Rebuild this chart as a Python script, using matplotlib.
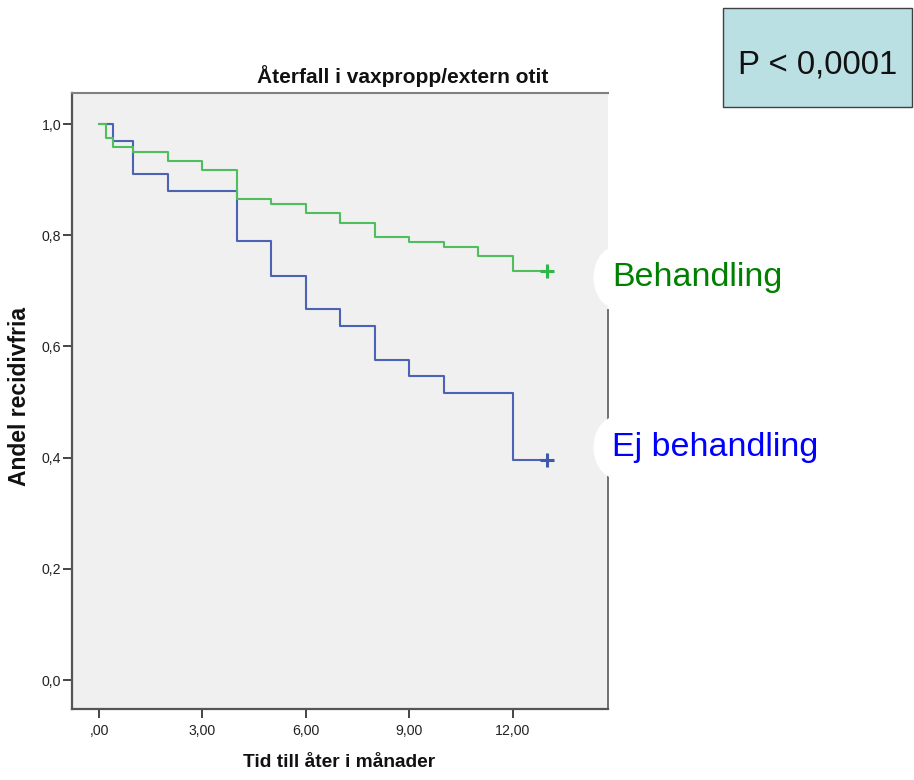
import matplotlib
matplotlib.use("Agg")
import matplotlib.pyplot as plt
from matplotlib.patches import Rectangle

# ---- data ----
title = "Återfall i vaxpropp/extern otit"
xlabel = "Tid till åter i månader"
ylabel = "Andel recidivfria"
p_text = "P < 0,0001"

t_beh = [0, 0.2, 0.4, 1, 2, 3, 4, 5, 6, 7, 8, 9, 10, 11, 12, 13]
s_beh = [1.0, 0.975, 0.959, 0.950, 0.933, 0.917, 0.866, 0.857, 0.840, 0.822,
         0.797, 0.788, 0.779, 0.763, 0.736, 0.736]
t_ej = [0, 0.4, 1, 2, 4, 5, 6, 7, 8, 9, 10, 12, 13]
s_ej = [1.0, 0.970, 0.910, 0.879, 0.789, 0.727, 0.667, 0.637, 0.576, 0.547,
        0.516, 0.395, 0.395]
label_beh = "Behandling"
label_ej = "Ej behandling"

x_ticks = [0, 3, 6, 9, 12]
x_ticklabels = [",00", "3,00", "6,00", "9,00", "12,00"]
y_ticks = [0.0, 0.2, 0.4, 0.6, 0.8, 1.0]
y_ticklabels = ["0,0", "0,2", "0,4", "0,6", "0,8", "1,0"]

FONT = ["Liberation Sans", "DejaVu Sans"]

FW, FH = 914, 780
fig = plt.figure(figsize=(FW / 100, FH / 100), dpi=100)
fig.patch.set_facecolor("white")

L, R, T, B = 71.5, 608, 93, 709
ax = fig.add_axes([L / FW, 1 - B / FH, (R - L) / FW, (B - T) / FH])
ax.set_facecolor("#F0F0F0")

col_beh_line = "#4FBE5C"
col_beh_mark = "#2EB848"
col_ej_line = "#4B63B2"
col_ej_mark = "#3E58AC"

ax.step(t_ej, s_ej, where="post", color=col_ej_line, lw=1.5, zorder=3)
ax.step(t_beh, s_beh, where="post", color=col_beh_line, lw=1.5, zorder=4)
ax.plot([t_ej[-1]], [s_ej[-1]], marker="+", ms=10, mew=2.2,
        color=col_ej_mark, zorder=5, clip_on=False)
ax.plot([t_beh[-1]], [s_beh[-1]], marker="+", ms=10, mew=2.2,
        color=col_beh_mark, zorder=5, clip_on=False)

ax.set_xlim(-0.798, 14.77)
ax.set_ylim(-0.052, 1.0558)

ax.set_xticks(x_ticks)
ax.set_xticklabels(x_ticklabels, family=FONT, fontsize=10.2, color="#222222")
ax.set_yticks(y_ticks)
ax.set_yticklabels(y_ticklabels, family=FONT, fontsize=10.2, color="#222222")
ax.tick_params(axis="both", direction="out", length=6.5, width=1.4,
               color="#444444")
ax.tick_params(axis="x", pad=4)
ax.tick_params(axis="y", pad=1)

for side in ["left", "bottom"]:
    ax.spines[side].set_color("#555555")
    ax.spines[side].set_linewidth(1.6)
ax.spines["top"].set_color("#808080")
ax.spines["top"].set_linewidth(1.5)
ax.spines["right"].set_color("#707070")
ax.spines["right"].set_linewidth(1.4)
ax.spines["right"].set_bounds(-0.052, 0.665)

ax.set_xlabel(xlabel, family=FONT, fontsize=13.8, fontweight="bold",
              color="#111111")
ax.xaxis.set_label_coords(0.4986, -0.073)

fig.text(20 / FW, 1 - 397 / FH, ylabel, rotation=90, ha="center",
         va="center", family=FONT, fontsize=16.5, fontweight="bold",
         color="#111111")

fig.text(403 / FW, 1 - 83 / FH, title, ha="center", va="baseline",
         family=FONT, fontsize=15.0, fontweight="bold", color="#111111")

# group labels
box = dict(boxstyle="round,pad=0.55,rounding_size=1.1", facecolor="white",
           edgecolor="none")
fig.text(612 / FW, 1 - 286 / FH, label_beh, ha="left", va="baseline",
         family=FONT, fontsize=24.5, color="#008000", bbox=box, zorder=10)
fig.text(612 / FW, 1 - 456 / FH, label_ej, ha="left", va="baseline",
         family=FONT, fontsize=24.5, color="#0000FF", bbox=box, zorder=10)

# P-value box
fig.patches.append(Rectangle((723 / FW, 1 - 107 / FH), 189 / FW, 99 / FH,
                             transform=fig.transFigure, facecolor="#BBE0E3",
                             edgecolor="#404040", lw=1.0, zorder=1))
fig.text(738 / FW, 1 - 73 / FH, p_text, ha="left", va="baseline",
         family=FONT, fontsize=23.7, color="#111111", zorder=5)

fig.savefig("out.png", dpi=100)
